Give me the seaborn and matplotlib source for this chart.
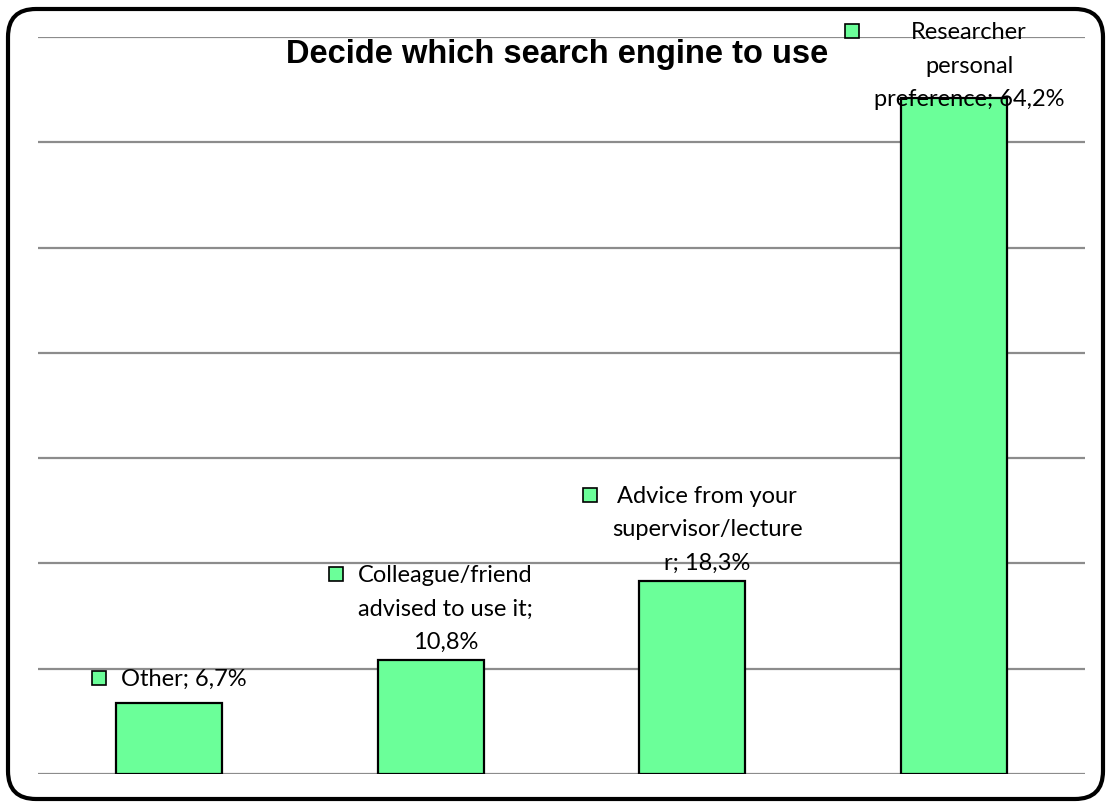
import matplotlib
matplotlib.use("Agg")
import matplotlib.pyplot as plt
import seaborn as sns
import pandas as pd
from matplotlib.patches import FancyBboxPatch, Rectangle
from matplotlib.offsetbox import AnnotationBbox, HPacker, TextArea, DrawingArea
from matplotlib.transforms import IdentityTransform

# Survey answers: how the search engine was chosen
categories = [
    "Other",
    "Colleague/friend\nadvised to use it",
    "Advice from your\nsupervisor/lecture\nr",
    "Researcher\npersonal\npreference",
]
separators = [" ", "\n", " ", " "]
values = [6.7, 10.8, 18.3, 64.2]
title = "Decide which search engine to use"

bar_color = "#6BFF99"
grid_color = "#8C8C8C"

sns.set_theme(style="white")
plt.rcParams["font.family"] = ["Liberation Sans", "DejaVu Sans"]
plt.rcParams["text.color"] = "black"

W, H, DPI = 1110, 803, 100
fig = plt.figure(figsize=(W / DPI, H / DPI), dpi=DPI)
ax = fig.add_axes([38 / W, 1 - 775 / H, (1085 - 38) / W, (775 - 38) / H])

df = pd.DataFrame({"category": categories, "value": values})
sns.barplot(data=df, x="category", y="value", color=bar_color, saturation=1,
            width=0.405, edgecolor="black", linewidth=1.6, ax=ax, zorder=3)

ax.set_ylim(0, 70)
ax.set_yticks(range(0, 71, 10))
ax.yaxis.grid(True, color=grid_color, linewidth=1.6, zorder=0)
ax.set_axisbelow(True)
ax.set_xticks([])
ax.set_yticklabels([])
ax.tick_params(left=False, bottom=False)
ax.set_xlabel("")
ax.set_ylabel("")
for s in ax.spines.values():
    s.set_visible(False)

fig.text(557 / W, 1 - 54 / H, title, ha="center", va="center", color="black",
         fontsize=23.5, fontweight="bold", family=["Liberation Sans"])

# Value labels with a small legend key in front of each
def fmt(v):
    return f"{v:.1f}%".replace(".", ",")

label_font = dict(fontsize=17, family=["Lato", "DejaVu Sans"],
                  multialignment="center", linespacing=1.74, color="black")
boxes = []
for i, (cat, sep, v) in enumerate(zip(categories, separators, values)):
    txt = f"{cat};{sep}{fmt(v)}"
    ta = TextArea(txt, textprops=label_font)
    da = DrawingArea(10.5, 20, 0, 0)
    da.add_artist(Rectangle((0.5, 7.5), 10, 10, facecolor=bar_color,
                            edgecolor="black", linewidth=1.2))
    pack = HPacker(children=[da, ta], align="top", pad=0, sep=11)
    ab = AnnotationBbox(pack, (i, v), xybox=(0, 6), xycoords="data",
                        boxcoords="offset points", box_alignment=(0.5, 0),
                        frameon=False, pad=0, zorder=5)
    ax.add_artist(ab)
    boxes.append(ab)

# Keep labels inside the chart frame
fig.canvas.draw()
renderer = fig.canvas.get_renderer()
top_limit = H - 22
for ab in boxes:
    bb = ab.get_window_extent(renderer)
    if bb.y1 > top_limit:
        dx, dy = ab.xybox
        ab.xybox = (dx, dy - (bb.y1 - top_limit) * 72 / DPI)

# Rounded chart frame
frame = FancyBboxPatch((8, 3), W - 15, H - 13,
                       boxstyle="round,pad=0,rounding_size=28",
                       transform=IdentityTransform(), facecolor="none",
                       edgecolor="black", linewidth=3, zorder=10)
fig.patches.append(frame)

fig.savefig("out.png", dpi=DPI)
